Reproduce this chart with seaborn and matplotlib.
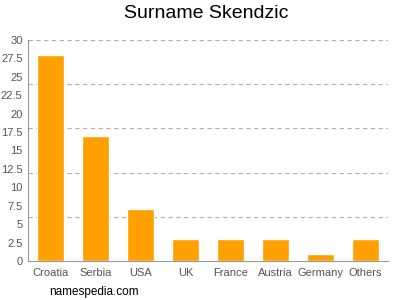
import matplotlib
matplotlib.use("Agg")
import matplotlib.pyplot as plt
import seaborn as sns
import pandas as pd

countries = ["Croatia", "Serbia", "USA", "UK", "France", "Austria", "Germany", "Others"]
counts = [28, 17, 7, 3, 3, 3, 1, 3]
yticks = [0, 2.5, 5, 7.5, 10, 12.5, 15, 17.5, 20, 22.5, 25, 27.5, 30]
ytick_labels = ["0", "2.5", "5", "7.5", "10", "12.5", "15", "17.5", "20", "22.5", "25", "27.5", "30"]
grid_levels = [6, 12, 18, 24, 30]

sns.set_style("white")
plt.rcParams['font.family'] = ['Liberation Sans', 'DejaVu Sans']

df = pd.DataFrame({"country": countries, "count": counts})
fig = plt.figure(figsize=(4, 3), dpi=100)
ax = fig.add_axes([0.07, 0.13, 0.90, 0.7367])

for g in grid_levels:
    ax.axhline(g, color="#b0b0b0", linestyle=(0, (4, 3)), linewidth=0.8, zorder=0)

sns.barplot(data=df, x="country", y="count", color="#FFA000", saturation=1,
            width=0.62, ax=ax, zorder=2)

ax.set_ylim(0, 30)
ax.set_xlim(-0.5, 7.5)
ax.set_yticks(yticks)
ax.set_yticklabels(ytick_labels)
ax.set_xlabel("")
ax.set_ylabel("")
ax.tick_params(axis="both", labelsize=8, colors="#555555", length=3, width=0.8, pad=2)
ax.tick_params(axis="y", pad=1)
for s in ["top", "right"]:
    ax.spines[s].set_visible(False)
for s in ["left", "bottom"]:
    ax.spines[s].set_color("#999999")
    ax.spines[s].set_linewidth(0.8)

fig.text(0.515, 0.955, "Surname Skendzic", ha="center", va="center", fontsize=14, color="black")
fig.text(0.122, 0.027, "namespedia.com", ha="left", va="center", fontsize=8.5, color="black")

fig.savefig("out.png", dpi=100)
